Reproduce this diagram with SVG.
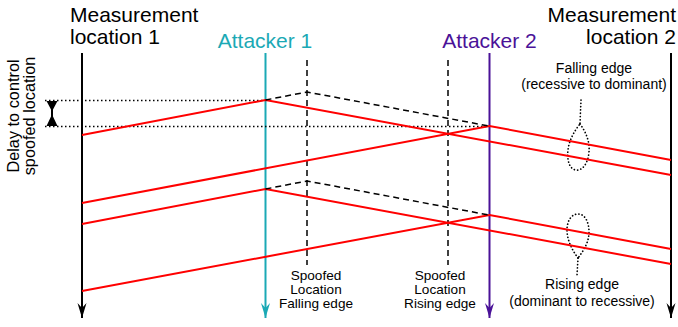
<svg xmlns="http://www.w3.org/2000/svg" width="678" height="327" viewBox="0 0 678 327">
<style>
text{font-family:"Liberation Sans",Arial,sans-serif;fill:#000}
.big{font-size:21px}
.mid{font-size:16.3px}
.sm{font-size:14px}
.sp{font-size:13.6px}
.sig{stroke:#ff0000;stroke-width:2;fill:none}
.dash{stroke:#000;stroke-width:1.5;stroke-dasharray:6 4;fill:none}
.dot{stroke:#000;stroke-width:1.5;stroke-dasharray:1.5 2.5;fill:none}
.dotr{stroke:#000;stroke-width:1.7;stroke-dasharray:0.1 3.2;stroke-linecap:round;fill:none}
</style>
<defs>
<marker id="ab" markerUnits="userSpaceOnUse" markerWidth="16" markerHeight="10" refX="0" refY="0" viewBox="-15 -5 16 10" orient="auto" overflow="visible"><path d="M0,0 L-15,-4.5 L-10,0 L-15,4.5 Z" fill="#000"/></marker>
<marker id="at" markerUnits="userSpaceOnUse" markerWidth="16" markerHeight="10" refX="0" refY="0" viewBox="-15 -5 16 10" orient="auto" overflow="visible"><path d="M0,0 L-15,-4.5 L-10,0 L-15,4.5 Z" fill="#1ba9b5"/></marker>
<marker id="ap" markerUnits="userSpaceOnUse" markerWidth="16" markerHeight="10" refX="0" refY="0" viewBox="-15 -5 16 10" orient="auto" overflow="visible"><path d="M0,0 L-15,-4.5 L-10,0 L-15,4.5 Z" fill="#4a1298"/></marker>
</defs>
<rect width="678" height="327" fill="#fff"/>

<g id="meas1">
<line x1="82" y1="53" x2="82" y2="318" stroke="#000" stroke-width="2" marker-end="url(#ab)"/>
<text class="big" x="70" y="22">Measurement</text>
<text class="big" x="70" y="44">location 1</text>
</g>
<g id="attacker1">
<line x1="265.5" y1="53" x2="265.5" y2="318" stroke="#1ba9b5" stroke-width="2" marker-end="url(#at)"/>
<text class="big" x="265" y="48" text-anchor="middle" style="fill:#1ba9b5">Attacker 1</text>
</g>
<g id="attacker2">
<line x1="489.5" y1="53" x2="489.5" y2="318" stroke="#4a1298" stroke-width="2" marker-end="url(#ap)"/>
<text class="big" x="489.5" y="48" text-anchor="middle" style="fill:#4a1298">Attacker 2</text>
</g>
<g id="meas2">
<line x1="671" y1="53" x2="671" y2="318" stroke="#000" stroke-width="2" marker-end="url(#ab)"/>
<text class="big" x="676" y="22" text-anchor="end">Measurement</text>
<text class="big" x="676" y="44" text-anchor="end">location 2</text>
</g>
<g id="spoof1">
<line class="dash" x1="307" y1="60" x2="307" y2="265"/>
<text class="sp" x="316" y="280" text-anchor="middle">Spoofed</text>
<text class="sp" x="316" y="294" text-anchor="middle">Location</text>
<text class="sp" x="316" y="308" text-anchor="middle">Falling edge</text>
</g>
<g id="spoof2">
<line class="dash" x1="448" y1="60" x2="448" y2="265"/>
<text class="sp" x="440" y="280" text-anchor="middle">Spoofed</text>
<text class="sp" x="440" y="294" text-anchor="middle">Location</text>
<text class="sp" x="440" y="308" text-anchor="middle">Rising edge</text>
</g>
<g id="delay">
<line class="dot" x1="45" y1="100.5" x2="265" y2="100.5"/>
<line class="dot" x1="45" y1="126.5" x2="489" y2="126.5"/>
<path d="M46.5,101 L57.5,101 L53,109.5 L53,116.5 L57.5,126 L46.5,126 L51,116.5 L51,109.5 Z" fill="#000"/>
<text class="mid" transform="translate(19,116) rotate(-90)" text-anchor="middle">Delay to control</text>
<text class="mid" transform="translate(35,116) rotate(-90)" text-anchor="middle">spoofed location</text>
</g>
<g id="falling-note">
<text class="sm" x="594" y="73" text-anchor="middle">Falling edge</text>
<text class="sm" x="594" y="89" text-anchor="middle">(recessive to dominant)</text>
<path class="dotr" d="M581,100 L580,124"/>
<path class="dotr" d="M580,124 C586,132 590,142 589,152 C588,164 582,171 576,170 C569,169 567,160 568,150 C569,140 575,130 580,124 Z"/>
</g>
<g id="rising-note">
<text class="sm" x="582" y="289" text-anchor="middle">Rising edge</text>
<text class="sm" x="582" y="306" text-anchor="middle">(dominant to recessive)</text>
<path class="dotr" d="M578,258 L577,276"/>
<path class="dotr" d="M578,258 C572,250 567,240 567,230 C567,220 572,214 578,214 C585,214 589,222 589,232 C589,242 584,250 578,258 Z"/>
</g>
<g id="connectors">
<polyline class="sig" points="82,135 265.5,100 671,175"/>
<polyline class="sig" points="82,203 489.5,126 671,160"/>
<polyline class="sig" points="82,224 265.5,189 671,264"/>
<polyline class="sig" points="82,291 489.5,215 671,249"/>
<polyline class="dash" points="265.5,100 307,92 489,126"/>
<polyline class="dash" points="265.5,189 307,181 489,215"/>
</g>
</svg>
